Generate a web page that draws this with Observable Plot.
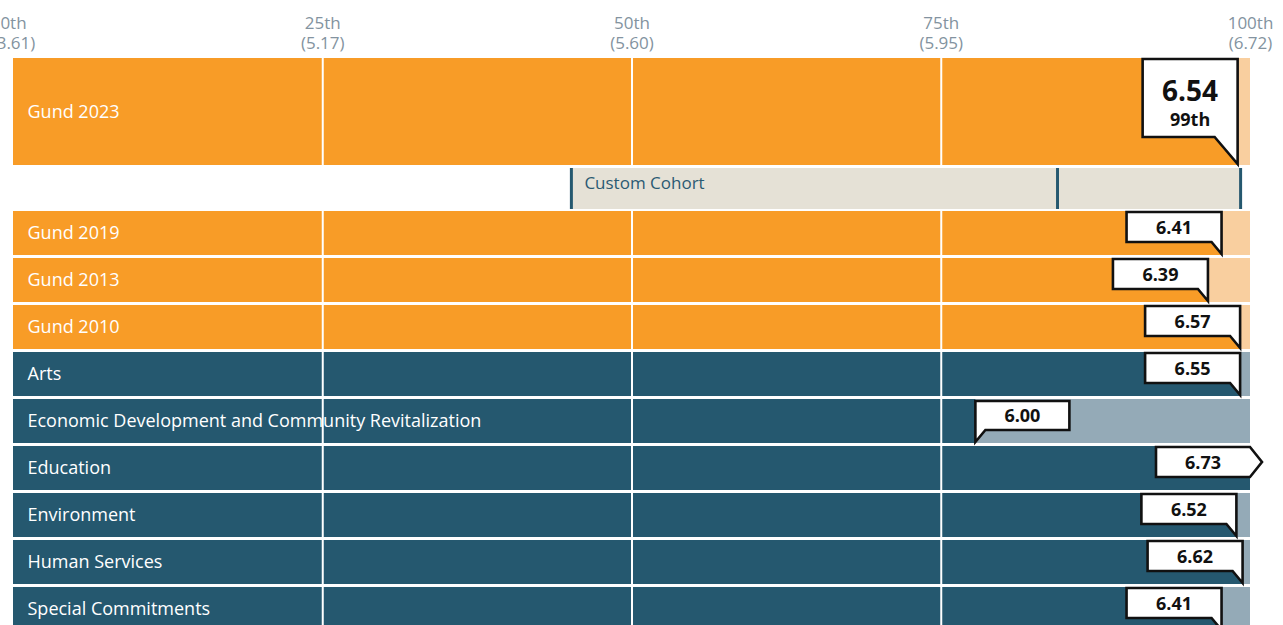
<!DOCTYPE html>
<html>
<head>
<meta charset="utf-8">
<script src="https://cdn.jsdelivr.net/npm/d3@7"></script>
<script src="https://cdn.jsdelivr.net/npm/@observablehq/plot@0.6"></script>
<style>
  html, body { margin: 0; padding: 0; background: #ffffff; overflow: hidden; }
  #chart svg { display: block; }
</style>
</head>
<body>
<div id="chart"></div>
<script>
// ---- data ----
const rowLabels = ["Gund 2023", "Gund 2019", "Gund 2013", "Gund 2010", "Arts",
  "Economic Development and Community Revitalization", "Education", "Environment",
  "Human Services", "Special Commitments"];
const rowGroups = ["Gund", "Gund", "Gund", "Gund", "Program", "Program", "Program", "Program", "Program", "Program"];
const scores = [6.54, 6.41, 6.39, 6.57, 6.55, 6.00, 6.73, 6.52, 6.62, 6.41];
const percentiles = [99, 97.7, 96.6, 99.2, 99.2, 77.8, 100, 98.9, 99.4, 97.7];
const tickPercentiles = [0, 25, 50, 75, 100];
const tickLabels = ["0th", "25th", "50th", "75th", "100th"];
const tickScores = ["3.61", "5.17", "5.60", "5.95", "6.72"];
const cohortLabel = "Custom Cohort";
const cohortMarks = [45.1, 84.4, 99.2];

// ---- styles ----
const darkColor = {Gund: "#F89C27", Program: "#25586F"};
const lightColor = {Gund: "#F9CF9F", Program: "#94AAB7"};
const font = "'Open Sans', 'Noto Sans', sans-serif";

// ---- layout (row bands, in pixel units below the axis) ----
const BIG_H = 107, ROW_H = 44, COHORT_H = 41, GAP = 3;
const rows = [];
let cursor = 0;
let cohortBand = null;
rowLabels.forEach((label, i) => {
  const h = i === 0 ? BIG_H : ROW_H;
  rows.push({label, group: rowGroups[i], score: scores[i], pct: percentiles[i], y1: cursor, y2: cursor + h});
  cursor += h + GAP;
  if (i === 0) {
    cohortBand = {label: cohortLabel, y1: cursor, y2: cursor + COHORT_H};
    cursor += COHORT_H + GAP - 1;
  }
});
const plotTop = 58, H = 625, W = 1283;

const chart = Plot.plot({
  width: W,
  height: H,
  margin: 0,
  style: {fontFamily: font, background: "white", overflow: "hidden"},
  x: {domain: [0, 100], range: [13, 1250], axis: null},
  y: {domain: [0, H - plotTop], range: [plotTop, H], axis: null},
  color: {type: "identity"},
  marks: [
    Plot.rect(rows, {x1: 0, x2: 100, y1: "y1", y2: "y2", fill: d => lightColor[d.group]}),
    Plot.rect(rows, {x1: 0, x2: d => Math.min(d.pct, 100), y1: "y1", y2: "y2", fill: d => darkColor[d.group]}),
    Plot.ruleX([25, 50, 75], {y1: 0, y2: H - plotTop + 20, stroke: "white", strokeWidth: 2}),
    Plot.rect([cohortBand], {x1: cohortMarks[0], x2: cohortMarks[cohortMarks.length - 1] + 0.1, y1: "y1", y2: "y2", fill: "#E5E1D6"}),
    Plot.ruleX(cohortMarks, {y1: cohortBand.y1, y2: cohortBand.y2, stroke: "#25586F", strokeWidth: 3}),
    Plot.text([cohortBand], {x: cohortMarks[0], y: "y1", text: "label", dx: 13, dy: 8, lineAnchor: "top",
      textAnchor: "start", fill: "#2B5A73", fontSize: 17}),
    Plot.text(rows, {x: 0, y: d => (d.y1 + d.y2) / 2, text: "label", dx: 14, textAnchor: "start",
      fill: "white", fontSize: 18}),
    Plot.text(tickPercentiles, {x: d => d, y: 0, text: (d, i) => `${tickLabels[i]}\n(${tickScores[i]})`,
      lineAnchor: "bottom", dy: -10, lineHeight: 1.12, fontSize: 17, fill: "#8393A0", textAnchor: "middle"})
  ]
});
document.getElementById("chart").appendChild(chart);

// ---- callout labels, positioned through Plot's scales ----
const sx = chart.scale("x"), sy = chart.scale("y");
const X = v => sx.apply(v), Y = v => sy.apply(v);
const maxScore = parseFloat(tickScores[tickScores.length - 1]);
const ordinal = n => {
  const s = ["th", "st", "nd", "rd"], v = n % 100;
  return n + (s[(v - 20) % 10] || s[v] || s[0]);
};
const g = d3.select(chart).append("g")
  .attr("font-family", font).attr("font-weight", "bold").attr("fill", "#111");

rows.forEach((d, i) => {
  const end = X(Math.min(d.pct, 100));
  const top = Y(d.y1), bottom = Y(d.y2);
  let L, R, T, B, pts;
  if (i === 0) {
    R = end; L = R - 95; T = top + 1; B = top + 79;
    pts = [[L, T], [R, T], [R, bottom - 1], [R - 23, B], [L, B]];
  } else if (d.score > maxScore) {
    R = X(100); L = R - 94; T = top + 1; B = T + 30;
    pts = [[L, T], [R, T], [R + 12, (T + B) / 2], [R, B], [L, B]];
  } else if (d.pct < 85) {
    L = end; R = L + 94; T = top + 2; B = T + 29;
    pts = [[L, T], [R, T], [R, B], [L + 10, B], [L, bottom - 1]];
  } else {
    R = end; L = R - 95; T = top + 1; B = T + 30;
    pts = [[L, T], [R, T], [R, bottom - 1], [R - 10, B], [L, B]];
  }
  g.append("polygon")
    .attr("points", pts.map(p => p.join(",")).join(" "))
    .attr("fill", "white").attr("stroke", "#111").attr("stroke-width", 2.6)
    .attr("stroke-linejoin", "miter");
  const cx = (L + R) / 2;
  if (i === 0) {
    g.append("text").attr("x", cx).attr("y", T + 42).attr("text-anchor", "middle")
      .attr("font-size", 28).text(d.score.toFixed(2));
    g.append("text").attr("x", cx).attr("y", T + 67).attr("text-anchor", "middle")
      .attr("font-size", 18).text(ordinal(Math.round(d.pct)));
  } else {
    g.append("text").attr("x", cx).attr("y", (T + B) / 2 + 6.5).attr("text-anchor", "middle")
      .attr("font-size", 18).text(d.score.toFixed(2));
  }
});
</script>
</body>
</html>
